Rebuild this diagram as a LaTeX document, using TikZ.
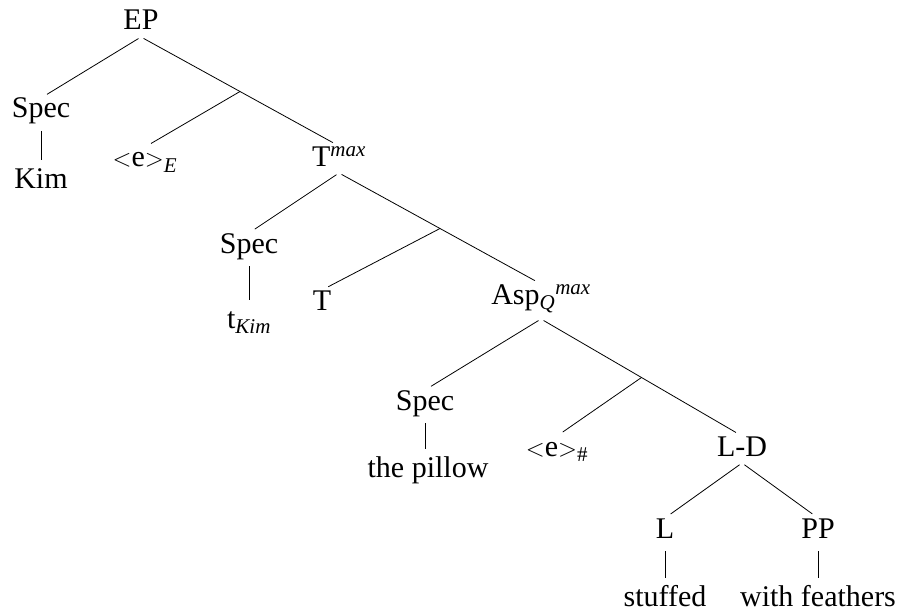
\documentclass[tikz,border=0pt]{standalone}
\usepackage{fontspec}
\setmainfont{Liberation Serif}
\newcommand{\sub}[1]{\textsubscript{\itshape #1}}
\newcommand{\sups}[1]{\textsuperscript{\itshape #1}}
\newcommand{\evar}{$<$e$>$}
\begin{document}
\begin{tikzpicture}[x=1pt,y=-1pt,
  lab/.style={anchor=base,inner sep=0pt,outer sep=0pt,font=\fontsize{30}{36}\selectfont,
    text height=20pt,text depth=7pt},
  edge/.style={line width=0.8pt,shorten >=7pt,shorten <=3pt},
  branch/.style={line width=0.8pt,shorten >=7pt},
  vert/.style={line width=0.8pt,shorten >=8pt,shorten <=6pt}]
\useasboundingbox (0,0) rectangle (921,615);
\node[lab] (EP) at (141,30) {EP};
\node[lab] (S1) at (41,118) {Spec};
\node[lab] (Kim) at (41,188) {Kim};
\node[lab] (eE) at (145,167) {\evar\sub{E}};
\node[lab] (Tm) at (339,166) {T\sups{max}};
\node[lab] (S2) at (249,253) {Spec};
\node[lab] (tK) at (249,328) {t\sub{Kim}};
\node[lab] (T) at (322,310) {T};
\node[lab,text depth=15pt] (Asp) at (541,304) {Asp\sub{Q}\sups{max}};
\node[lab] (S3) at (425,410) {Spec};
\node[lab] (pil) at (428,477) {the pillow};
\node[lab] (eh) at (557,456) {\evar\textsubscript{\#}};
\node[lab] (LD) at (742,456) {L-D};
\node[lab] (L) at (665,538) {L};
\node[lab] (PP) at (818,538) {PP};
\node[lab] (stf) at (665,606) {stuffed};
\node[lab] (wf) at (818,606) {with feathers};
\draw[edge] (EP.south) -- (S1.north);
\draw[edge] (EP.south) -- (Tm.north) coordinate[pos=0.5] (b1);
\draw[branch] (b1) -- (eE.north);
\draw[vert] (S1.south) -- (Kim.north);
\draw[edge] (Tm.south) -- (S2.north);
\draw[edge] (Tm.south) -- (Asp.north) coordinate[pos=0.5] (b2);
\draw[branch] (b2) -- (T.north);
\draw[vert] (S2.south) -- (tK.north);
\draw[edge] (Asp.south) -- (S3.north);
\draw[edge] (Asp.south) -- (LD.north) coordinate[pos=0.5] (b3);
\draw[branch] (b3) -- (eh.north);
\draw[vert] (S3.south) -- (S3.south |- pil.north);
\draw[edge] (LD.south) -- (L.north);
\draw[edge] (LD.south) -- (PP.north);
\draw[vert] (L.south) -- (stf.north);
\draw[vert] (PP.south) -- (wf.north);
\end{tikzpicture}
\end{document}
